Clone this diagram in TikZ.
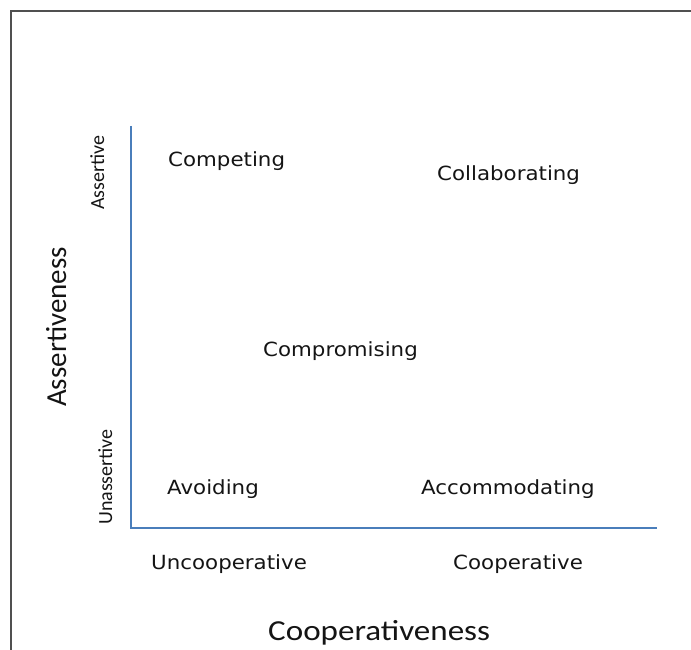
\documentclass[tikz,border=0pt]{standalone}
\usepackage{fontspec}
\setmainfont{Carlito}
\newfontfamily\stylefont{DejaVu Sans}
\definecolor{axisblue}{HTML}{4A7EBB}
\definecolor{framegray}{HTML}{505050}
\definecolor{textgray}{HTML}{141414}
\begin{document}
\begin{tikzpicture}
  [x=1pt,y=-1pt,every node/.style={inner sep=0pt,text=textgray,anchor=base west},
   mode/.style={font=\stylefont\fontsize{19.5}{22}\selectfont,xscale=1.095},
   tick/.style={font=\fontsize{20}{22}\selectfont,rotate=90},
   title/.style={font=\fontsize{29}{32}\selectfont}]
  \useasboundingbox (0,0) rectangle (691,650);

  % frame
  \draw[framegray,line width=1.8pt] (11,650) -- (11,11) -- (691,11);

  % axes
  \coordinate (top) at (131,126);
  \coordinate (origin) at (131,528);
  \coordinate (right) at (657,528);
  \draw[axisblue,line width=1.6pt] (top) -- (origin) -- (right);

  % the five modes
  \node[mode] (competing) at (168,167) {Competing};
  \node[mode] (collaborating) at (437,180) {Collaborating};
  \node[mode] (compromising) at (263,356) {Compromising};
  \node[mode] (avoiding) at (167,494) {Avoiding};
  \node[mode] (accommodating) at (421,494) {Accommodating};

  % axis ends
  \node[mode] (uncoop) at (151,569) {Uncooperative};
  \node[mode] (coop) at (453,569) {Cooperative};
  \node[tick] (assertive) at (104,210) {Assertive};
  \node[tick] (unassertive) at (112,525) {Unassertive};

  % axis titles
  \node[title,xscale=1.14] (xtitle) at (268,640) {Cooperativeness};
  \node[title,rotate=90] (ytitle) at (66,407) {Assertiveness};

\end{tikzpicture}
\end{document}
